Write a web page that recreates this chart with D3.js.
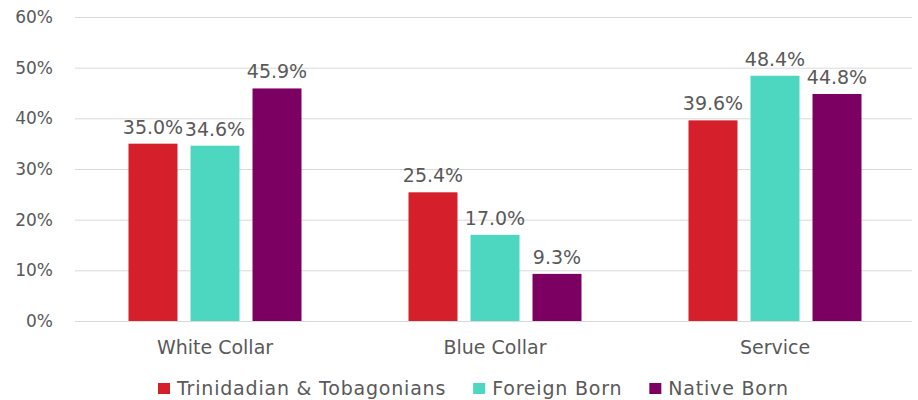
<!DOCTYPE html>
<html lang="en">
<head>
    <meta charset="UTF-8">
    <title>Occupation</title>
    <script src="https://cdnjs.cloudflare.com/ajax/libs/d3/7.8.5/d3.min.js"></script>
    <style>
    html, body {
        margin: 0;
        background: white;
    }
    text {
        font-family: "DejaVu Sans", Verdana, sans-serif;
    }
    .tick text {
        font-size: 17px;
        fill: #595959;
    }
    .val, .cat {
        font-size: 19px;
        fill: #595959;
    }
    .legend text {
        font-size: 19px;
        letter-spacing: 0.8px;
        fill: #595959;
    }
    </style>
</head>
<body>
    <div id="chart"></div>
    <script>
    var categories = ['White Collar', 'Blue Collar', 'Service'];
    var seriesNames = ['Trinidadian & Tobagonians', 'Foreign Born', 'Native Born'];
    var seriesColors = ['#d51f2a', '#4dd6c0', '#7b0061'];
    var trinidadian = [35.0, 25.4, 39.6];
    var foreignBorn = [34.6, 17.0, 48.4];
    var nativeBorn = [45.9, 9.3, 44.8];
    var yTicks = [0, 10, 20, 30, 40, 50, 60];

    var seriesValues = [trinidadian, foreignBorn, nativeBorn];

    var width = 918;
    var height = 400;

    var svg = d3.select('#chart')
        .append('svg')
            .attr('width', width)
            .attr('height', height);

    var x0 = d3.scaleBand()
        .domain(categories)
        .range([75, 915]);

    var y = d3.scaleLinear()
        .domain([0, 60])
        .range([321, 17]);

    // gridlines
    svg.append('g')
        .selectAll('line')
        .data(yTicks)
        .enter()
        .append('line')
            .attr('x1', 75)
            .attr('x2', 912)
            .attr('y1', function(d){ return y(d) + 0.5; })
            .attr('y2', function(d){ return y(d) + 0.5; })
            .attr('stroke', '#d9d9d9')
            .attr('stroke-width', 1);

    var yAxis = d3.axisLeft(y)
        .tickValues(yTicks)
        .tickSize(0)
        .tickPadding(0)
        .tickFormat(function(d){ return d + '%'; });

    svg.append('g')
        .attr('transform', 'translate(53,0)')
        .call(yAxis)
        .call(function(g){
            g.select('.domain').remove();
            g.attr('font-family', null).attr('font-size', null);
        });

    var groups = svg.selectAll('.group')
        .data(categories)
        .enter()
        .append('g')
            .attr('class', 'group');

    groups.each(function(cat, ci){
        var c = x0(cat) + x0.bandwidth() / 2;
        var x1 = d3.scaleBand()
            .domain(seriesNames)
            .range([c - 86.5, c + 86.5])
            .paddingInner(0.21)
            .paddingOuter(0);

        var g = d3.select(this);
        seriesNames.forEach(function(s, si){
            var v = seriesValues[si][ci];
            g.append('rect')
                .attr('x', x1(s))
                .attr('y', y(v))
                .attr('width', x1.bandwidth())
                .attr('height', y(0) - y(v))
                .attr('fill', seriesColors[si]);

            g.append('text')
                .attr('class', 'val')
                .attr('x', x1(s) + x1.bandwidth() / 2)
                .attr('y', y(v) - 10)
                .attr('text-anchor', 'middle')
                .text(v.toFixed(1) + '%');
        });

        g.append('text')
            .attr('class', 'cat')
            .attr('x', c)
            .attr('y', 354)
            .attr('text-anchor', 'middle')
            .text(cat);
    });

    // legend, laid out from text widths
    var legend = svg.append('g')
        .attr('class', 'legend');

    var lx = 0;
    seriesNames.forEach(function(s, i){
        var item = legend.append('g')
            .attr('transform', 'translate(' + lx + ',0)');
        item.append('rect')
            .attr('x', 0)
            .attr('y', 383)
            .attr('width', 12)
            .attr('height', 11)
            .attr('fill', seriesColors[i]);
        var t = item.append('text')
            .attr('x', 19)
            .attr('y', 395)
            .text(s);
        lx += 19 + t.node().getComputedTextLength() + 27;
    });
    legend.attr('transform', 'translate(158,0)');
    </script>
</body>
</html>
